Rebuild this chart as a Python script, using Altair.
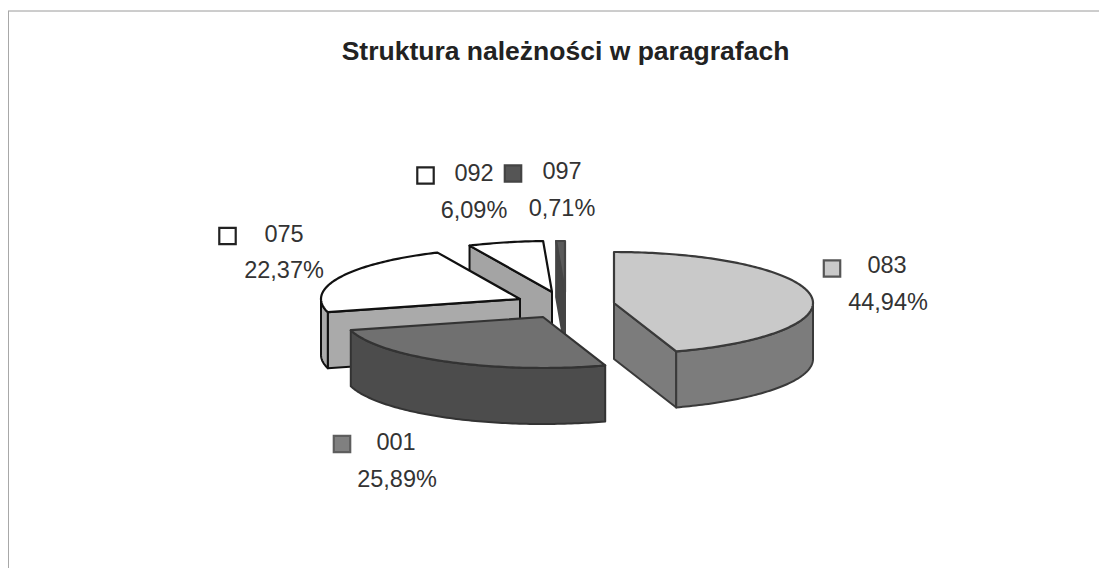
import math
import altair as alt

TITLE = "Struktura należności w paragrafach"
codes = ["083", "001", "075", "092", "097"]
shares = [44.94, 25.89, 22.37, 6.09, 0.71]
share_labels = ["44,94%", "25,89%", "22,37%", "6,09%", "0,71%"]

# styling / geometry of the exploded 3-D pie (page pixels, minus 8px margin)
OFFSET = 8
RX, RY, DEPTH = 199, 51, 56
centres = {"083": (614, 303), "001": (543, 317), "075": (520, 299), "092": (552, 292), "097": (565, 292)}
top_fill = {"083": "#c9c9c9", "001": "#707070", "075": "#ffffff", "092": "#ffffff", "097": "#5a5a5a"}
side_fill = {"083": "#7c7c7c", "001": "#4c4c4c", "075": "#aaaaaa", "092": "#a4a4a4", "097": "#444444"}
edge = {"083": "#3a3a3a", "001": "#333333", "075": "#111111", "092": "#111111", "097": "#444444"}
draw_order = ["092", "097", "075", "001", "083"]
marker_xy = {"083": (832, 268.5), "001": (342, 444), "075": (227.5, 236), "092": (425.5, 175.5), "097": (513, 173.5)}
code_xy = {"083": (887, 273), "001": (396, 450), "075": (284, 242), "092": (474, 181), "097": (562, 179)}
share_xy = {"083": (888, 310), "001": (397, 487), "075": (284, 278), "092": (474, 218), "097": (562, 216)}
marker_fill = {"083": "#c9c9c9", "001": "#808080", "075": "#ffffff", "092": "#ffffff", "097": "#555555"}
marker_stroke = {"083": "#555555", "001": "#5e5e5e", "075": "#222222", "092": "#222222", "097": "#444444"}


def rim(c, deg, drop=0):
    a = math.radians(deg)
    return [c[0] - OFFSET + RX * math.sin(a), c[1] - OFFSET - RY * math.cos(a) + drop]


def feature(coords, fill, stroke, width):
    ring = coords + [coords[0]]
    return {
        "type": "Feature",
        "geometry": {"type": "Polygon", "coordinates": [ring]},
        "properties": {"fill": fill, "stroke": stroke, "width": width},
    }


spans = {}
acc = 0.0
for code, share in zip(codes, shares):
    spans[code] = (acc * 3.6, (acc + share) * 3.6)
    acc += share

features = []
for code in draw_order:
    start, end = spans[code]
    c = centres[code]
    apex = [c[0] - OFFSET, c[1] - OFFSET]
    apex_low = [apex[0], apex[1] + DEPTH]
    side, line, top = side_fill[code], edge[code], top_fill[code]
    # cut faces that turn towards the viewer
    for ang, normal in ((start, start - 90), (end, end + 90)):
        if math.cos(math.radians(normal)) < -1e-6:
            features.append(feature([apex, rim(c, ang), rim(c, ang, DEPTH), apex_low], side, line, 2))
    # outer wall on the near half of the ellipse
    lo, hi = max(start, 90), min(end, 270)
    if hi > lo:
        n = max(int(hi - lo), 2)
        angs = [lo + (hi - lo) * i / n for i in range(n + 1)]
        wall = [rim(c, t) for t in angs] + [rim(c, t, DEPTH) for t in reversed(angs)]
        features.append(feature(wall, side, line, 2))
    # top face
    n = max(int(end - start), 2)
    face = [apex] + [rim(c, start + (end - start) * i / n) for i in range(n + 1)]
    features.append(feature(face, top, line, 2.2))

pie = (
    alt.Chart(alt.Data(values=features))
    .mark_geoshape(strokeJoin="round")
    .encode(
        fill=alt.Fill("properties.fill:N", scale=None),
        stroke=alt.Stroke("properties.stroke:N", scale=None),
        strokeWidth=alt.StrokeWidth("properties.width:Q", scale=None),
    )
    .project(type="identity", scale=1, translate=[0, 0])
)

rows = []
for code, lab in zip(codes, share_labels):
    rows.append({
        "code": code, "share": lab,
        "mx": marker_xy[code][0] - OFFSET, "my": marker_xy[code][1] - OFFSET,
        "cx": code_xy[code][0] - OFFSET, "cy": code_xy[code][1] - OFFSET,
        "sx": share_xy[code][0] - OFFSET, "sy": share_xy[code][1] - OFFSET,
        "mfill": marker_fill[code], "mstroke": marker_stroke[code],
    })
src = alt.Data(values=rows)

markers = alt.Chart(src).mark_square(size=270, opacity=1, strokeWidth=2.2).encode(
    x=alt.X("mx:Q", scale=None), y=alt.Y("my:Q", scale=None),
    fill=alt.Fill("mfill:N", scale=None), stroke=alt.Stroke("mstroke:N", scale=None),
)
FONT = "Liberation Sans"
code_text = alt.Chart(src).mark_text(font=FONT, fontSize=23.5, color="#333333", baseline="alphabetic", align="center").encode(
    x=alt.X("cx:Q", scale=None), y=alt.Y("cy:Q", scale=None), text="code:N")
share_text = alt.Chart(src).mark_text(font=FONT, fontSize=23.5, color="#333333", baseline="alphabetic", align="center").encode(
    x=alt.X("sx:Q", scale=None), y=alt.Y("sy:Q", scale=None), text="share:N")
title = alt.Chart(alt.Data(values=[{"t": TITLE, "x": 565.5 - OFFSET, "y": 60 - OFFSET}])).mark_text(
    font=FONT, fontSize=26.5, fontWeight="bold", color="#222222", baseline="alphabetic", align="center").encode(
    x=alt.X("x:Q", scale=None), y=alt.Y("y:Q", scale=None), text="t:N")

frame_h = alt.Chart(alt.Data(values=[{"x": 0, "x2": 1091, "y": 3}])).mark_rule(color="#9a9a9a", strokeWidth=1).encode(
    x=alt.X("x:Q", scale=None), x2="x2:Q", y=alt.Y("y:Q", scale=None))
frame_v = alt.Chart(alt.Data(values=[{"x": 0.5, "y": 3, "y2": 560}])).mark_rule(color="#a8a8a8", strokeWidth=1).encode(
    x=alt.X("x:Q", scale=None), y=alt.Y("y:Q", scale=None), y2="y2:Q")

chart = (
    alt.layer(frame_h, frame_v, pie, markers, code_text, share_text, title)
    .resolve_scale(x="independent", y="independent")
    .properties(width=1091, height=560, padding=0, autosize=alt.AutoSizeParams(type="none"), background="#ffffff")
    .configure_view(stroke=None)
)
chart.save("out.html", embed_options={"renderer": "svg", "actions": False})
